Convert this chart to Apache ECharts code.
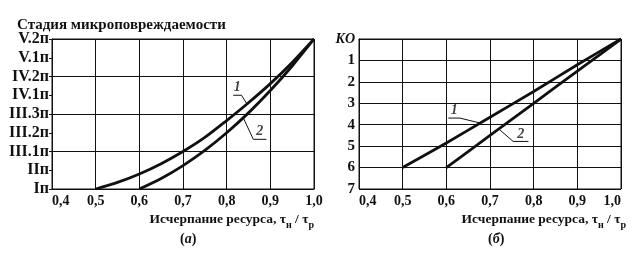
<!DOCTYPE html>
<html><head><meta charset="utf-8">
<script src="https://cdn.jsdelivr.net/npm/echarts@6/dist/echarts.min.js"></script>
<style>html,body{margin:0;padding:0;background:#fff}#c{width:638px;height:263px}</style>
</head><body><div id="c"></div>
<script>
// ---- data ----
const stageLabels = ['Iп','IIп','III.1п','III.2п','III.3п','IV.1п','IV.2п','V.1п','V.2п'];
const koLabels = ['KO','1','2','3','4','5','6','7'];
// panel (a): stage index vs resource exhaustion
const curveA1 = [[0.5,0],[0.55,0.35],[0.6,0.8],[0.65,1.35],[0.7,2.0],[0.75,2.75],[0.8,3.65],[0.85,4.6],[0.9,5.62],[0.95,6.75],[1.0,8]];
const curveA2 = [[0.6,0],[0.65,0.56],[0.7,1.25],[0.75,2.06],[0.8,3.0],[0.85,4.06],[0.9,5.25],[0.95,6.56],[1.0,8]];
// panel (б): KO vs resource exhaustion
const lineB1 = [[0.5,6],[0.6,4.85],[0.7,3.65],[0.8,2.45],[0.9,1.2],[1.0,0]];
const lineB2 = [[0.6,6],[0.7,4.5],[0.8,3.0],[0.9,1.5],[1.0,0]];
// curve-label leaders (data coordinates)
const leaderA1 = [[0.815,5.0],[0.834,5.0],[0.846,4.55]];
const leaderA2 = [[0.891,2.65],[0.861,2.65],[0.838,3.8]];
const leaderB1 = [[0.6045,3.69],[0.631,3.69],[0.677,3.92]];
const leaderB2 = [[0.788,4.78],[0.753,4.78],[0.723,4.25]];
const labelA1 = [0.8245,5.0], labelA2 = [0.876,2.65], labelB1 = [0.618,3.69], labelB2 = [0.7705,4.78];

const FONT = 'Liberation Serif';
const INK = '#111';
const chart = echarts.init(document.getElementById('c'));

const xAxisCommon = (gi, alignMax) => ({
  gridIndex: gi, type: 'value', min: 0.4, max: 1.0, interval: 0.1,
  axisLine: {show: true, lineStyle: {color: INK, width: 1}},
  axisTick: {show: false},
  splitLine: {show: true, lineStyle: {color: INK, width: 1}},
  axisLabel: {formatter: v => v.toFixed(1).replace('.', ','), fontFamily: FONT, fontWeight: 'bold',
    fontSize: 14, color: INK, margin: 5, alignMinLabel: 'left', alignMaxLabel: alignMax}
});

const nameRich = {
  m: {fontFamily: FONT, fontWeight: 'bold', fontSize: 13.5, color: INK, lineHeight: 20},
  s: {fontFamily: FONT, fontWeight: 'bold', fontSize: 10, color: INK, lineHeight: 10, verticalAlign: 'bottom'}
};
const nameText = '{m|Исчерпание ресурса, τ}{s|н}{m| / τ}{s|р}';

const curveLine = (data, xi, yi, smooth) => ({
  type: 'line', xAxisIndex: xi, yAxisIndex: yi, data: data, smooth: smooth,
  symbol: 'none', lineStyle: {color: INK, width: 2.8}, silent: true, z: 5
});
const leader = (data, xi, yi) => ({
  type: 'line', xAxisIndex: xi, yAxisIndex: yi, data: data, symbol: 'none',
  lineStyle: {color: INK, width: 1}, silent: true, z: 6
});
const tag = (pt, txt, xi, yi) => ({
  type: 'scatter', xAxisIndex: xi, yAxisIndex: yi, symbolSize: 1,
  itemStyle: {color: 'transparent'}, silent: true, z: 7,
  data: [{value: pt, label: {show: true, formatter: txt, position: 'top', distance: 0,
    fontFamily: FONT, fontStyle: 'italic', fontWeight: 'bold', fontSize: 14, color: INK}}]
});

chart.setOption({
  animation: false,
  backgroundColor: '#fff',
  title: [
    {text: 'Стадия микроповреждаемости', left: 12, top: 13, textStyle: {fontFamily: FONT, fontWeight: 'bold', fontSize: 15, color: INK}},
    {text: nameText, right: 319, top: 205, textStyle: {rich: nameRich}},
    {text: nameText, right: 7, top: 205, textStyle: {rich: nameRich}},
    {text: '({i|а})', left: 175, top: 227, textStyle: {fontFamily: FONT, fontWeight: 'bold', fontSize: 14, color: INK,
      rich: {i: {fontFamily: FONT, fontWeight: 'bold', fontStyle: 'italic', fontSize: 14, color: INK}}}},
    {text: '({i|б})', left: 483, top: 227, textStyle: {fontFamily: FONT, fontWeight: 'bold', fontSize: 14, color: INK,
      rich: {i: {fontFamily: FONT, fontWeight: 'bold', fontStyle: 'italic', fontSize: 14, color: INK}}}}
  ],
  grid: [
    {left: 52, top: 39, width: 262, height: 150, show: true, borderColor: INK, borderWidth: 1, backgroundColor: 'transparent'},
    {left: 359, top: 39, width: 262, height: 150, show: true, borderColor: INK, borderWidth: 1, backgroundColor: 'transparent'}
  ],
  xAxis: [xAxisCommon(0, 'center'), xAxisCommon(1, 'right')],
  yAxis: [
    {gridIndex: 0, type: 'value', min: 0, max: 8, interval: 1,
      axisLine: {show: true, lineStyle: {color: INK, width: 1}},
      axisTick: {show: true, length: 3, lineStyle: {color: INK}},
      splitLine: {show: false},
      axisLabel: {formatter: v => stageLabels[v], fontFamily: FONT, fontWeight: 'bold', fontSize: 16, color: INK, margin: 3}},
    {gridIndex: 0, type: 'value', min: 0, max: 8, interval: 2, position: 'left',
      axisLine: {show: false}, axisTick: {show: false}, axisLabel: {show: false},
      splitLine: {show: true, lineStyle: {color: INK, width: 1}}},
    {gridIndex: 1, type: 'value', min: 0, max: 7, interval: 1, inverse: true,
      axisLine: {show: true, lineStyle: {color: INK, width: 1}},
      axisTick: {show: false},
      splitLine: {show: true, lineStyle: {color: INK, width: 1}},
      axisLabel: {formatter: v => v === 0 ? '{k|' + koLabels[v] + '}' : koLabels[v], fontFamily: FONT, fontWeight: 'bold', fontSize: 15, color: INK, margin: 4,
        rich: {k: {fontFamily: FONT, fontWeight: 'bold', fontStyle: 'italic', fontSize: 14, color: INK}}}}
  ],
  series: [
    curveLine(curveA1, 0, 0, 0.3),
    curveLine(curveA2, 0, 0, 0.3),
    curveLine(lineB1, 1, 2, 0.2),
    curveLine(lineB2, 1, 2, 0.2),
    leader(leaderA1, 0, 0), leader(leaderA2, 0, 0),
    leader(leaderB1, 1, 2), leader(leaderB2, 1, 2),
    tag(labelA1, '1', 0, 0), tag(labelA2, '2', 0, 0),
    tag(labelB1, '1', 1, 2), tag(labelB2, '2', 1, 2)
  ]
});
</script></body></html>
